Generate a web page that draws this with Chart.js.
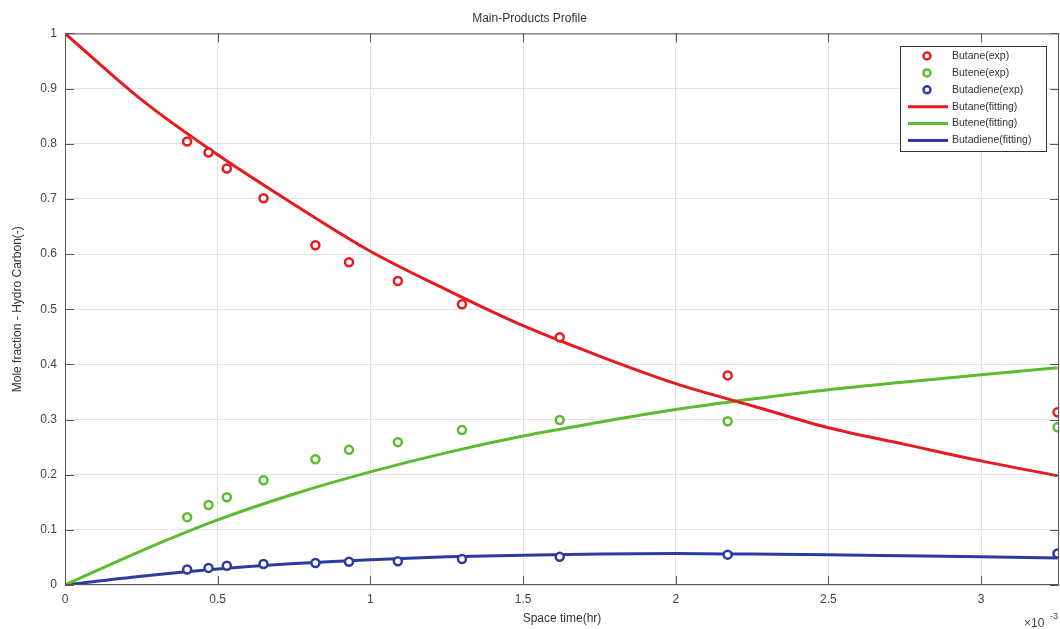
<!DOCTYPE html>
<html>
<head>
<meta charset="utf-8">
<script src="https://cdn.jsdelivr.net/npm/chart.js@4"></script>
<style>
  html, body { margin: 0; padding: 0; background: #fff; }
  #wrap { width: 1060px; height: 629px; }
</style>
</head>
<body>
<div id="wrap"><canvas id="profileChart" width="1060" height="629"></canvas></div>
<script>
// experimental points (space time in units of 1e-3 hr)
const expTime = [0.40, 0.47, 0.53, 0.65, 0.82, 0.93, 1.09, 1.30, 1.62, 2.17, 3.25];
const butaneExp = [0.804, 0.784, 0.755, 0.701, 0.616, 0.585, 0.551, 0.509, 0.449, 0.380, 0.313];
const buteneExp = [0.123, 0.145, 0.159, 0.190, 0.228, 0.245, 0.259, 0.281, 0.299, 0.297, 0.286];
const butadieneExp = [0.028, 0.031, 0.035, 0.038, 0.040, 0.042, 0.043, 0.047, 0.051, 0.055, 0.057];

// fitted curves
const fitTime = [0, 0.25, 0.5, 0.75, 1, 1.25, 1.5, 1.75, 2, 2.25, 2.5, 2.75, 3, 3.25];
const butaneFit = [1, 0.88, 0.78, 0.69, 0.605, 0.535, 0.47, 0.415, 0.365, 0.325, 0.285, 0.255, 0.225, 0.198];
const buteneFit = [0, 0.062, 0.118, 0.165, 0.205, 0.24, 0.27, 0.295, 0.318, 0.337, 0.354, 0.368, 0.381, 0.394];
const butadieneFit = [0, 0.016, 0.029, 0.039, 0.046, 0.051, 0.054, 0.056, 0.057, 0.056, 0.055, 0.053, 0.051, 0.049];

const RED = '#e51b20', GREEN = '#5dbb2f', BLUE = '#2e3b9e';
const axisColor = '#555';
const tickText = '#444';
const FONT = '"Liberation Sans", Arial, sans-serif';

const pts = (xs, ys) => xs.map((x, i) => ({ x: x, y: ys[i] }));
const trimNum = v => String(Number(v.toFixed(2)));

function expSet(label, ys, color) {
  return {
    label: label,
    data: pts(expTime, ys),
    showLine: false,
    clip: 0,
    pointStyle: 'circle',
    pointRadius: 4,
    pointBorderWidth: 2.5,
    pointBorderColor: color,
    pointBackgroundColor: '#fff',
    borderColor: color
  };
}
function fitSet(label, ys, color) {
  return {
    label: label,
    data: pts(fitTime, ys),
    showLine: true,
    clip: 0,
    borderColor: color,
    borderWidth: 3,
    pointRadius: 0,
    cubicInterpolationMode: 'monotone',
    fill: false
  };
}

// MATLAB-like inward ticks, box, legend and exponent label
const matlabBox = {
  id: 'matlabBox',
  afterDraw(chart) {
    const c = chart.ctx, a = chart.chartArea;
    const xs = chart.scales.x, ys = chart.scales.y;
    c.save();
    c.strokeStyle = axisColor;
    c.lineWidth = 1;
    c.strokeRect(a.left + 0.5, a.top + 0.5, a.right - a.left - 1, a.bottom - a.top - 1);
    c.beginPath();
    xs.ticks.forEach(t => {
      const px = Math.round(xs.getPixelForValue(t.value)) + 0.5;
      c.moveTo(px, a.bottom); c.lineTo(px, a.bottom - 9);
      c.moveTo(px, a.top); c.lineTo(px, a.top + 9);
    });
    ys.ticks.forEach(t => {
      const py = Math.round(ys.getPixelForValue(t.value)) + 0.5;
      c.moveTo(a.left, py); c.lineTo(a.left + 9, py);
      c.moveTo(a.right, py); c.lineTo(a.right - 9, py);
    });
    c.stroke();

    // exponent label
    c.fillStyle = tickText;
    c.textBaseline = 'alphabetic';
    c.textAlign = 'left';
    c.font = '12px ' + FONT;
    c.fillText('\u00d710', 1024, 627);
    c.font = '9px ' + FONT;
    c.fillText('-3', 1050, 619);

    // legend
    const lx = 900, ly = 46, lw = 146, lh = 105;
    c.fillStyle = '#fff';
    c.fillRect(lx, ly, lw, lh);
    c.strokeStyle = '#333';
    c.strokeRect(lx + 0.5, ly + 0.5, lw, lh);
    c.font = '10.5px ' + FONT;
    c.textBaseline = 'middle';
    chart.data.datasets.forEach((ds, i) => {
      const y = 56 + i * 16.9;
      if (ds.showLine) {
        c.strokeStyle = ds.borderColor;
        c.lineWidth = 3;
        c.beginPath(); c.moveTo(908, y); c.lineTo(948, y); c.stroke();
      } else {
        c.strokeStyle = ds.pointBorderColor;
        c.lineWidth = 2.5;
        c.beginPath(); c.arc(927, y, 3.5, 0, Math.PI * 2); c.stroke();
      }
      c.fillStyle = '#333';
      c.fillText(ds.label, 952, y);
    });
    c.restore();
  }
};

new Chart(document.getElementById('profileChart'), {
  type: 'scatter',
  data: {
    datasets: [
      expSet('Butane(exp)', butaneExp, RED),
      expSet('Butene(exp)', buteneExp, GREEN),
      expSet('Butadiene(exp)', butadieneExp, BLUE),
      fitSet('Butane(fitting)', butaneFit, RED),
      fitSet('Butene(fitting)', buteneFit, GREEN),
      fitSet('Butadiene(fitting)', butadieneFit, BLUE)
    ]
  },
  options: {
    responsive: false,
    animation: false,
    layout: { autoPadding: false, padding: { left: 0, right: 1, top: 0, bottom: 0 } },
    scales: {
      x: {
        type: 'linear',
        min: 0,
        max: 3.255,
        afterFit(scale) { scale.height = 44; scale.paddingRight = 0; scale.paddingLeft = 0; },
        ticks: {
          stepSize: 0.5,
          includeBounds: false,
          padding: 7,
          color: tickText,
          callback: v => trimNum(v),
          font: { size: 12, family: FONT }
        },
        grid: { color: '#e3e3e3', drawTicks: false },
        border: { display: false },
        title: {
          display: true,
          text: 'Space time(hr)',
          color: '#333',
          padding: { top: 2, bottom: 3 },
          font: { size: 12, family: FONT }
        }
      },
      y: {
        min: 0,
        max: 1,
        afterFit(scale) { scale.width = 65; },
        ticks: {
          stepSize: 0.1,
          padding: 8,
          color: tickText,
          callback: v => trimNum(v),
          font: { size: 12, family: FONT }
        },
        grid: { color: '#e3e3e3', drawTicks: false },
        border: { display: false },
        title: {
          display: true,
          text: 'Mole fraction - Hydro Carbon(-)',
          color: '#333',
          padding: { top: 10, bottom: 0 },
          font: { size: 12, family: FONT }
        }
      }
    },
    plugins: {
      legend: { display: false },
      tooltip: { enabled: false },
      title: {
        display: true,
        text: 'Main-Products Profile',
        color: '#333',
        padding: { top: 11, bottom: 8 },
        font: { size: 12, weight: 'normal', family: FONT }
      }
    }
  },
  plugins: [matlabBox]
});
</script>
</body>
</html>
